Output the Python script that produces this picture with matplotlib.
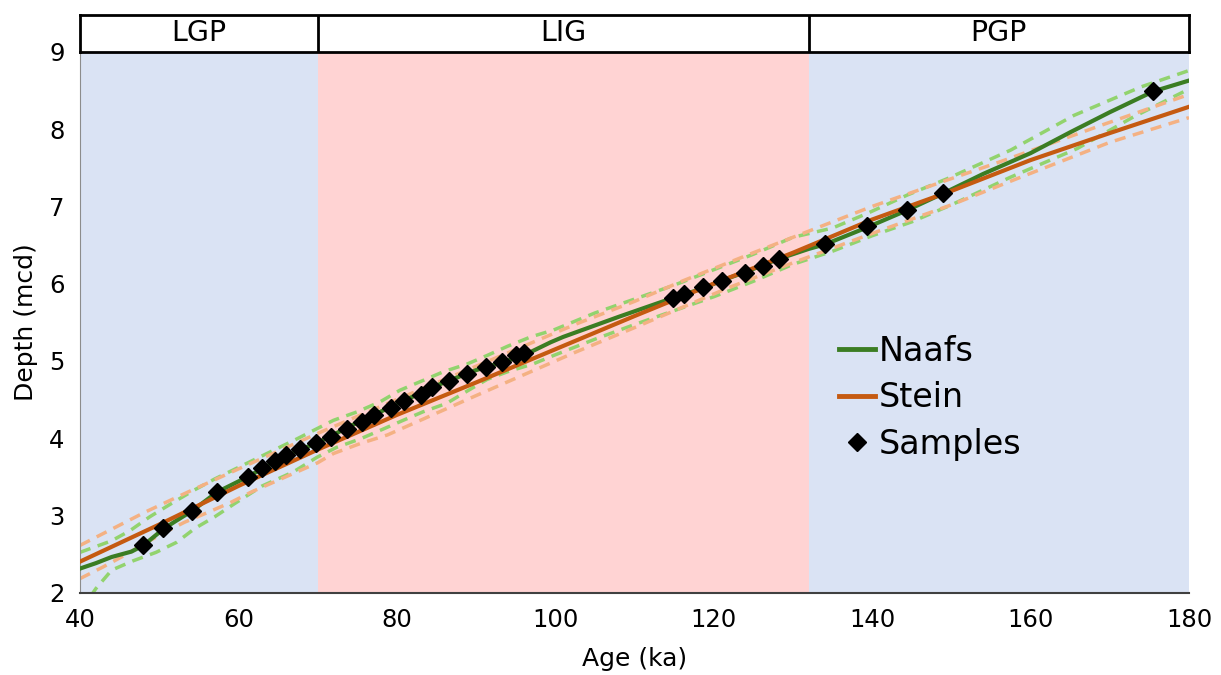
import numpy as np
import matplotlib.pyplot as plt
from matplotlib.lines import Line2D

# climate periods (ka)
period_names = ["LGP", "LIG", "PGP"]
period_edges = [40, 70, 132, 180]
period_colors = ["#dae3f4", "#ffd3d3", "#dae3f4"]

# Naafs age model
naafs_age = [40, 42, 44, 46.5, 48, 50.5, 52, 54.2, 57.3, 61.2, 64, 67.8, 70, 75, 80,
             85, 90, 93.3, 96, 99.4, 101, 108, 115, 118.7, 121, 124, 128.2, 132,
             134.1, 139.4, 144.4, 149, 154, 160, 165, 170, 175.5, 180]
naafs_depth = [2.31, 2.38, 2.46, 2.53, 2.61, 2.82, 2.92, 3.06, 3.30, 3.50, 3.66, 3.85, 3.94, 4.20, 4.44,
               4.68, 4.88, 4.98, 5.07, 5.24, 5.31, 5.57, 5.82, 5.94, 6.04, 6.15, 6.32, 6.45,
               6.51, 6.73, 6.95, 7.17, 7.42, 7.69, 7.96, 8.22, 8.49, 8.63]

naafs_up_age = [40, 44, 46.3, 48.8, 51.5, 54.3, 57, 62, 67.4, 69.5, 72, 75, 77.9, 80.4, 83.4,
                85.9, 88.9, 91.4, 94, 96.9, 99.8, 105, 110, 115, 120, 125, 130, 135, 139.4,
                144.5, 149.5, 157.5, 165.5, 174, 180]
naafs_up = [2.52, 2.67, 2.80, 2.98, 3.15, 3.32, 3.47, 3.72, 3.99, 4.10, 4.23, 4.34, 4.47, 4.62, 4.75,
            4.86, 4.96, 5.07, 5.19, 5.31, 5.40, 5.62, 5.80, 5.98, 6.18, 6.38, 6.60, 6.72, 6.91,
            7.15, 7.36, 7.73, 8.18, 8.55, 8.76]

naafs_lo_age = [40, 42, 44, 46.7, 49.6, 52.2, 54.5, 57, 59.5, 63, 66.9, 69.9, 72.4, 75.4, 77.9,
                80.8, 83.3, 86.3, 88.4, 91.4, 94, 97.2, 99.8, 105, 110, 115, 120, 125, 130,
                135, 140, 145, 150, 157.5, 165.9, 173, 180]
naafs_lo = [1.75, 2.05, 2.29, 2.41, 2.52, 2.65, 2.83, 2.98, 3.15, 3.38, 3.56, 3.75, 3.88, 3.99, 4.10,
            4.23, 4.34, 4.45, 4.58, 4.76, 4.86, 4.96, 5.07, 5.28, 5.47, 5.65, 5.83, 6.03, 6.25,
            6.42, 6.62, 6.80, 7.02, 7.38, 7.75, 8.16, 8.52]

# Stein age model
stein_age = [40, 50, 60, 70, 80, 90, 100, 110, 120, 130, 140, 150, 160, 170, 180]
stein_depth = [2.40, 2.88, 3.38, 3.85, 4.30, 4.72, 5.15, 5.58, 6.00, 6.40, 6.83, 7.20, 7.60, 7.95, 8.29]

stein_up_age = [40, 48.2, 53.6, 60, 70, 80, 90, 102.7, 110, 116.2, 125, 133.5, 140, 150,
                156.2, 168.9, 180]
stein_up = [2.61, 3.04, 3.30, 3.60, 4.06, 4.50, 4.93, 5.48, 5.77, 6.04, 6.40, 6.74, 7.00, 7.36,
            7.58, 8.05, 8.45]

stein_lo_age = [40, 42.9, 45.6, 50.3, 53.2, 56.2, 59.1, 61.6, 70, 72, 75.4, 78.8, 90, 102.5,
                110, 121.7, 130, 140, 150, 158.3, 170, 180]
stein_lo = [2.18, 2.33, 2.48, 2.76, 2.91, 3.04, 3.17, 3.30, 3.68, 3.80, 3.93, 4.04, 4.55, 5.11,
            5.43, 5.94, 6.27, 6.65, 7.02, 7.36, 7.83, 8.15]

# samples
sample_age = [47.9, 50.5, 54.2, 57.3, 61.2, 63.0, 64.6, 66.0, 67.8, 69.8, 71.7, 73.7, 75.6,
              77.1, 79.2, 80.9, 83.0, 84.5, 86.6, 88.8, 91.3, 93.3, 95.0, 96.0,
              114.9, 116.2, 118.7, 121.0, 123.9, 126.2, 128.2, 134.1, 139.4, 144.4, 149.0, 175.5]
sample_depth = [2.61, 2.84, 3.06, 3.30, 3.50, 3.61, 3.70, 3.78, 3.86, 3.94, 4.02, 4.12, 4.21,
                4.30, 4.39, 4.48, 4.56, 4.66, 4.74, 4.83, 4.92, 4.98, 5.07, 5.10,
                5.82, 5.86, 5.95, 6.04, 6.14, 6.23, 6.32, 6.51, 6.74, 6.95, 7.18, 8.49]

green = "#3b7d23"
orange = "#c55a11"
light_green = "#92d36e"
light_orange = "#f4b183"

plt.rcParams['font.family'] = ['DejaVu Sans']

fig = plt.figure(figsize=(12.21, 6.75), dpi=100)
ax = fig.add_axes([0.0655, 0.1222, 0.9083, 0.8008])
hdr = fig.add_axes([0.0655, 0.923, 0.9083, 0.0548], sharex=ax)

# background periods
for i in range(len(period_names)):
    ax.axvspan(period_edges[i], period_edges[i + 1], color=period_colors[i], lw=0, zorder=0)

# uncertainty envelopes
dash = (3.2, 2.2)
ax.plot(naafs_up_age, naafs_up, color=light_green, lw=2.5, dashes=dash, zorder=2)
ax.plot(naafs_lo_age, naafs_lo, color=light_green, lw=2.5, dashes=dash, zorder=2)
ax.plot(stein_up_age, stein_up, color=light_orange, lw=2.5, dashes=dash, zorder=2)
ax.plot(stein_lo_age, stein_lo, color=light_orange, lw=2.5, dashes=dash, zorder=2)

ax.plot(naafs_age, naafs_depth, color=green, lw=3, zorder=3, label="Naafs")
ax.plot(stein_age, stein_depth, color=orange, lw=3, zorder=4, label="Stein")
ax.plot(sample_age, sample_depth, 'D', color='black', ms=9, zorder=5, label="Samples")

ax.set_xlim(40, 180)
ax.set_ylim(2, 9)
ax.set_xticks(range(40, 181, 20))
ax.set_yticks(range(2, 10))
ax.tick_params(length=0, labelsize=17.5, pad=11)
ax.set_xlabel("Age (ka)", fontsize=18, labelpad=11)
ax.set_ylabel("Depth (mcd)", fontsize=18, labelpad=8)
ax.spines['top'].set_visible(False)
ax.spines['right'].set_visible(False)
ax.spines['left'].set_color('#8c8c8c')
ax.spines['bottom'].set_color('#404040')
ax.spines['bottom'].set_linewidth(1.5)

handles = [Line2D([], [], color=green, lw=3.5),
           Line2D([], [], color=orange, lw=3.5),
           Line2D([], [], marker='D', color='black', ls='none', ms=9)]
ax.legend(handles, ["Naafs", "Stein", "Samples"], loc='center left',
          bbox_to_anchor=(0.684, 0.36), frameon=False, fontsize=24,
          handlelength=1.1, handletextpad=0.12, labelspacing=0.4,
          borderpad=0, borderaxespad=0)

# header with period names
hdr.set_ylim(0, 1)
for i in range(len(period_names)):
    mid = (period_edges[i] + period_edges[i + 1]) / 2
    hdr.text(mid, 0.5, period_names[i], ha='center', va='center', fontsize=20.5)
for e in period_edges[1:-1]:
    hdr.axvline(e, color='black', lw=2)
hdr.tick_params(left=False, bottom=False, labelleft=False, labelbottom=False)
for s in hdr.spines.values():
    s.set_linewidth(2)

fig.savefig("out.png", dpi=100)
